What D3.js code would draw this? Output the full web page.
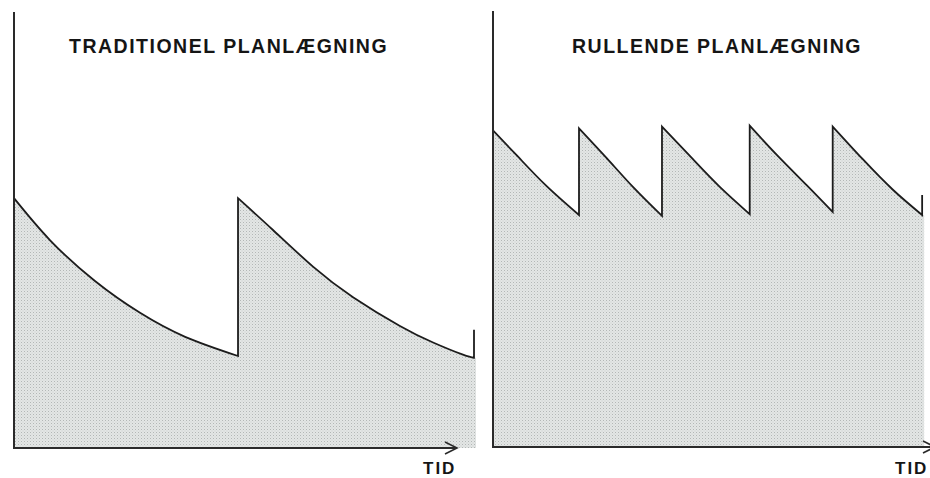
<!DOCTYPE html>
<html>
<head>
<meta charset="utf-8">
<script src="https://cdn.jsdelivr.net/npm/d3@7"></script>
<style>
  html, body { margin: 0; padding: 0; background: #fff; }
  svg { display: block; }
  text { font-family: "Liberation Sans", Arial, Helvetica, sans-serif; font-weight: bold; fill: #151515; }
</style>
</head>
<body>
<svg id="chart" width="930" height="478"></svg>
<script>
// ---- Data (time units 0..10, level 0..100) ----
const titles = ["TRADITIONEL PLANLÆGNING", "RULLENDE PLANLÆGNING"];
const axisLabel = "TID";

// Traditional planning: two long periods
const leftSegments = [
  [[0, 57.3], [0.78, 47.7], [1.76, 38.3], [2.74, 31.0], [3.72, 25.5], [4.87, 21.1]],
  [[4.87, 57.3], [5.63, 50.0], [6.5, 41.6], [7.37, 34.6], [8.39, 28.0], [9.11, 24.2], [9.76, 21.4], [10, 20.7]]
];
const leftEndTick = 27.1;

// Rolling planning: five short periods
const rightSegments = [
  [[0, 72.6], [0.6, 66.4], [1.23, 60.0], [2.0, 53.2]],
  [[2.0, 73.1], [2.65, 66.2], [3.26, 59.6], [3.93, 53.0]],
  [[3.93, 73.5], [4.65, 66.0], [5.28, 59.6], [5.97, 53.4]],
  [[5.97, 73.7], [6.6, 67.0], [7.3, 60.0], [7.9, 53.9]],
  [[7.9, 73.5], [8.6, 66.0], [9.3, 59.0], [9.98, 53.2]]
];
const rightEndTick = 57.8;

// ---- Drawing ----
const svg = d3.select("#chart");
const defs = svg.append("defs");
const pat = defs.append("pattern")
  .attr("id", "dots").attr("patternUnits", "userSpaceOnUse")
  .attr("width", 3).attr("height", 3);
pat.append("rect").attr("width", 3).attr("height", 3).attr("fill", "#e3e6e5");
pat.append("rect").attr("width", 1).attr("height", 1).attr("fill", "#b3b7b6");
pat.append("rect").attr("x", 1.5).attr("y", 1.5).attr("width", 1).attr("height", 1).attr("fill", "#ccd0cf");

const panels = [
  { segs: leftSegments, tick: leftEndTick, title: titles[0], titleX: 69,
    x: d3.scaleLinear().domain([0, 10]).range([14, 474]),
    y: d3.scaleLinear().domain([0, 100]).range([448, 12]),
    axisEnd: 457, labelX: 423 },
  { segs: rightSegments, tick: rightEndTick, title: titles[1], titleX: 572,
    x: d3.scaleLinear().domain([0, 10]).range([493, 923]),
    y: d3.scaleLinear().domain([0, 100]).range([447, 11]),
    axisEnd: 935, labelX: 895 }
];

panels.forEach(p => {
  const g = svg.append("g");
  const line = d3.line().x(d => p.x(d[0])).y(d => p.y(d[1])).curve(d3.curveNatural);
  const segPaths = p.segs.map(s => line(s));
  const first = p.segs[0][0];
  const lastSeg = p.segs[p.segs.length - 1];
  const last = lastSeg[lastSeg.length - 1];

  // filled area
  const areaD = `M${p.x(first[0])},${p.y(0)}` +
    segPaths.map(s => s.replace(/^M/, "L")).join("") +
    `L${p.x(last[0]) + 2},${p.y(last[1])}L${p.x(last[0]) + 2},${p.y(0)}Z`;
  g.append("path").attr("d", areaD).attr("fill", "url(#dots)");

  // curve with vertical jumps and end tick
  const lineD = segPaths.map((s, i) => i === 0 ? s : s.replace(/^M/, "L")).join("") +
    `L${p.x(last[0])},${p.y(p.tick)}`;
  g.append("path").attr("d", lineD)
    .attr("fill", "none").attr("stroke", "#1c1c1c")
    .attr("stroke-width", 1.8).attr("stroke-linejoin", "miter");

  // axes
  const x0 = p.x(0), yb = p.y(0), yt = p.y(100);
  g.append("line").attr("x1", x0).attr("x2", x0).attr("y1", yt).attr("y2", yb + 1)
    .attr("stroke", "#2a2a2a").attr("stroke-width", 2);
  g.append("line").attr("x1", x0).attr("x2", p.axisEnd).attr("y1", yb).attr("y2", yb)
    .attr("stroke", "#2a2a2a").attr("stroke-width", 2);
  g.append("path")
    .attr("d", `M${p.axisEnd - 12},${yb - 6}L${p.axisEnd},${yb}L${p.axisEnd - 12},${yb + 6}`)
    .attr("fill", "none").attr("stroke", "#2a2a2a").attr("stroke-width", 1.6);

  // texts
  g.append("text").attr("x", p.titleX).attr("y", 53)
    .style("font-size", "19.5px").style("letter-spacing", "1.5px").text(p.title);
  g.append("text").attr("x", p.labelX).attr("y", 474)
    .style("font-size", "17px").style("letter-spacing", "2px").text(axisLabel);
});
</script>
</body>
</html>
